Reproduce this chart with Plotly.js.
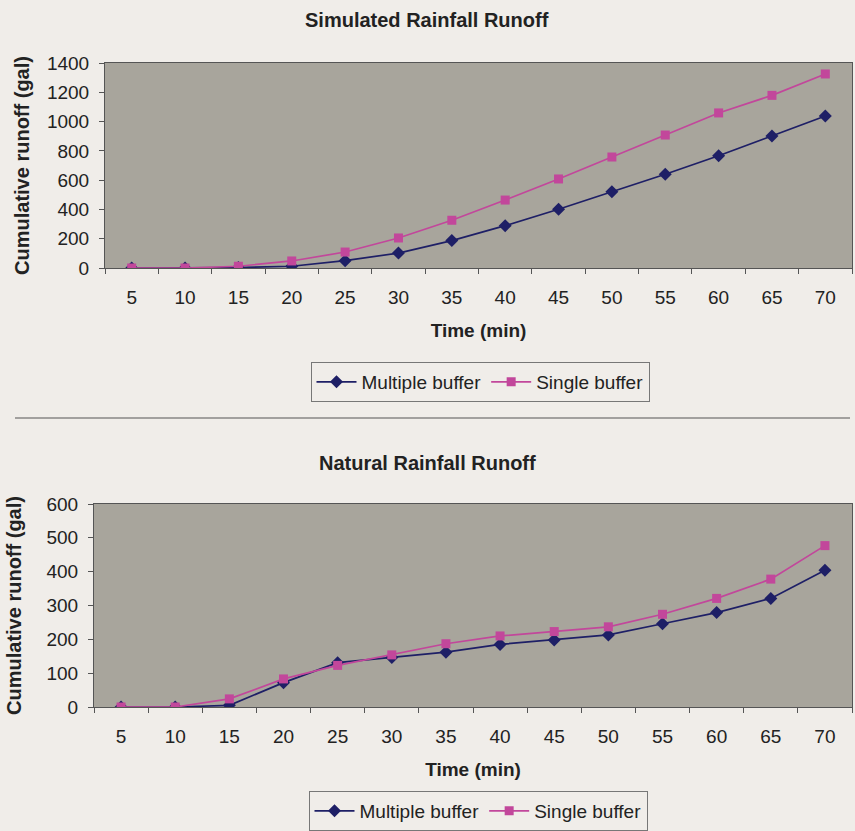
<!DOCTYPE html>
<html>
<head>
<meta charset="utf-8">
<script src="https://cdn.plot.ly/plotly-3.0.1.min.js"></script>
<style>html,body{margin:0;padding:0;background:#f0ede9;overflow:hidden;}</style>
</head>
<body>
<div id="chart" style="width:855px;height:831px;"></div>
<script>
const timeLabels = ["5","10","15","20","25","30","35","40","45","50","55","60","65","70"];
const simMultiple = [0, 0, 3, 12, 50, 102, 187, 289, 401, 521, 640, 767, 901, 1038];
const simSingle = [0, 0, 12, 48, 109, 205, 326, 464, 608, 758, 908, 1059, 1179, 1325];
const natMultiple = [0, 0, 5, 72, 131, 146, 162, 185, 198, 213, 246, 279, 321, 404];
const natSingle = [0, 0, 24, 83, 123, 154, 187, 210, 223, 237, 274, 321, 378, 477];
const seriesNames = ["Multiple buffer", "Single buffer"];
const titles = ["Simulated Rainfall Runoff", "Natural Rainfall Runoff"];

const navy = "#1e1f66";
const pink = "#c2479b";
const font = "Liberation Sans, Arial, sans-serif";
const txt = "#222";

function tr(y, name, color, symbol, xa, ya, legend, size) {
  return {
    x: timeLabels, y: y, name: name, type: "scatter", mode: "lines+markers",
    xaxis: xa, yaxis: ya, legend: legend,
    line: {color: color, width: 1.7},
    marker: {symbol: symbol, size: size, color: color}
  };
}

const data = [
  tr(simMultiple, seriesNames[0], navy, "diamond", "x", "y", "legend", 10),
  tr(simSingle, seriesNames[1], pink, "square", "x", "y", "legend", 9),
  tr(natMultiple, seriesNames[0], navy, "diamond", "x2", "y2", "legend2", 10),
  tr(natSingle, seriesNames[1], pink, "square", "x2", "y2", "legend2", 9)
];

const W = 855, H = 831;
const px = v => v / W;
const py = v => 1 - v / H;

const xCommon = {
  type: "category", range: [-0.5, 13.5], tickson: "boundaries",
  ticks: "outside", ticklen: 5, tickcolor: "#555", ticklabelstandoff: 12,
  showline: true, linecolor: "#555", linewidth: 1, mirror: true,
  showgrid: false, zeroline: false, automargin: false,
  tickfont: {family: font, size: 19, color: txt},
  fixedrange: true
};
const yCommon = {
  ticks: "outside", ticklen: 5, tickcolor: "#555", ticklabelstandoff: 6,
  showline: true, linecolor: "#555", linewidth: 1, mirror: true,
  showgrid: false, zeroline: false, automargin: false,
  tickfont: {family: font, size: 19, color: txt},
  fixedrange: true
};

const layout = {
  width: W, height: H,
  margin: {l: 0, r: 0, t: 0, b: 0, autoexpand: false},
  paper_bgcolor: "#f0ede9",
  plot_bgcolor: "#a8a59c",
  showlegend: true,
  xaxis: Object.assign({}, xCommon, {
    domain: [px(105), px(852)], anchor: "y",
    title: {text: "<b>Time (min)</b>", font: {family: font, size: 19, color: txt}, standoff: 16}
  }),
  yaxis: Object.assign({}, yCommon, {
    domain: [py(268), py(63)], anchor: "x", range: [0, 1400], dtick: 200,
    title: {text: "<b>Cumulative runoff (gal)</b>", font: {family: font, size: 20, color: txt}, standoff: 11}
  }),
  xaxis2: Object.assign({}, xCommon, {
    domain: [px(94), px(852)], anchor: "y2",
    title: {text: "<b>Time (min)</b>", font: {family: font, size: 19, color: txt}, standoff: 16}
  }),
  yaxis2: Object.assign({}, yCommon, {
    domain: [py(707), py(504)], anchor: "x2", range: [0, 600], dtick: 100,
    title: {text: "<b>Cumulative runoff (gal)</b>", font: {family: font, size: 20, color: txt}, standoff: 19}
  }),
  legend: {
    orientation: "h", x: px(480), xanchor: "center", y: py(362), yanchor: "top",
    bgcolor: "#f0ede9", bordercolor: "#777", borderwidth: 1,
    font: {family: font, size: 19, color: txt}, itemwidth: 40, tracegroupgap: 0
  },
  legend2: {
    orientation: "h", x: px(478), xanchor: "center", y: 0, yanchor: "bottom",
    bgcolor: "#f0ede9", bordercolor: "#777", borderwidth: 1,
    font: {family: font, size: 19, color: txt}, itemwidth: 40, tracegroupgap: 0
  },
  annotations: [
    {text: "<b>" + titles[0] + "</b>", xref: "paper", yref: "paper", x: px(427), y: py(20),
     xanchor: "center", yanchor: "middle", showarrow: false, font: {family: font, size: 20, color: txt}},
    {text: "<b>" + titles[1] + "</b>", xref: "paper", yref: "paper", x: px(427), y: py(463),
     xanchor: "center", yanchor: "middle", showarrow: false, font: {family: font, size: 20, color: txt}}
  ],
  shapes: [
    {type: "line", xref: "paper", yref: "paper", x0: px(15), x1: px(850), y0: py(418), y1: py(418),
     line: {color: "#555", width: 1.2}}
  ]
};

Plotly.newPlot("chart", data, layout, {displayModeBar: false, staticPlot: true});
</script>
</body>
</html>
